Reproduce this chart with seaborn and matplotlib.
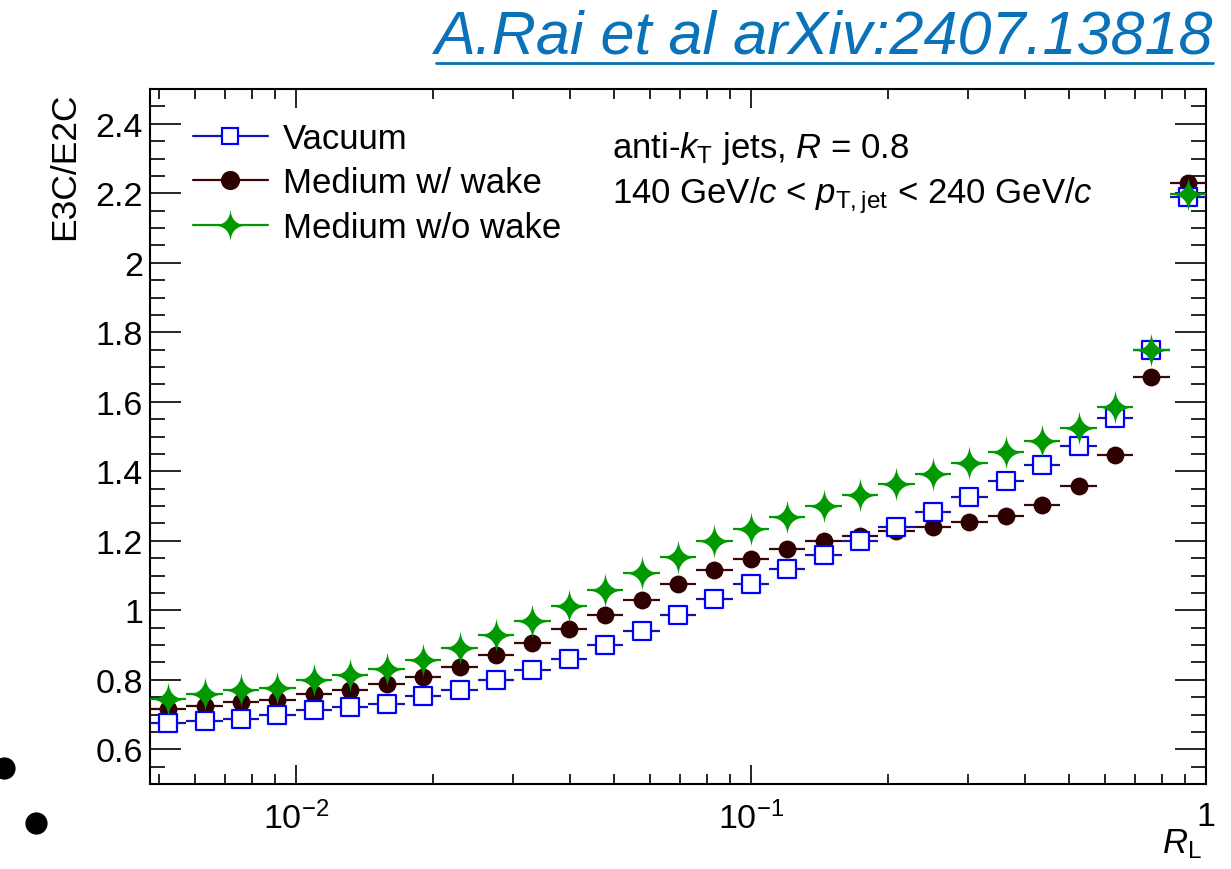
import numpy as np
import matplotlib
matplotlib.use("Agg")
import matplotlib.pyplot as plt
import seaborn as sns
from matplotlib.path import Path
from matplotlib.lines import Line2D
from matplotlib.ticker import FixedLocator, FuncFormatter, LogLocator, MultipleLocator, NullFormatter

# ---------------- data ----------------
# 29 logarithmic R_L bins between 10^-2.32 and 1
log_lo, log_hi, n_bins = -2.32, 0.0, 29

vacuum = [0.676, 0.682, 0.688, 0.699, 0.714, 0.722, 0.731, 0.752, 0.770, 0.800,
          0.829, 0.861, 0.899, 0.941, 0.986, 1.032, 1.075, 1.118, 1.159, 1.200,
          1.240, 1.284, 1.326, 1.372, 1.418, 1.473, 1.553, 1.749, 2.190]
wake = [0.716, 0.724, 0.735, 0.742, 0.759, 0.771, 0.788, 0.807, 0.836, 0.870,
        0.906, 0.946, 0.986, 1.030, 1.075, 1.116, 1.147, 1.175, 1.199, 1.213,
        1.228, 1.240, 1.253, 1.272, 1.303, 1.358, 1.448, 1.671, 2.230]
nowake = [0.745, 0.759, 0.771, 0.776, 0.798, 0.813, 0.832, 0.857, 0.890, 0.928,
          0.969, 1.012, 1.057, 1.106, 1.153, 1.199, 1.233, 1.269, 1.301, 1.331,
          1.364, 1.392, 1.425, 1.454, 1.487, 1.524, 1.584, 1.750, 2.197]

labels = ["Vacuum", "Medium w/ wake", "Medium w/o wake"]
yticks = [0.6, 0.8, 1.0, 1.2, 1.4, 1.6, 1.8, 2.0, 2.2, 2.4]
xticks = [0.01, 0.1, 1.0]
xticklabels = [r"$10^{-2}$", r"$10^{-1}$", "1"]

# ---------------- style ----------------
sns.set_theme(style="ticks")
plt.rcParams["font.family"] = ["Liberation Sans", "DejaVu Sans"]
plt.rcParams["mathtext.fontset"] = "custom"
plt.rcParams["mathtext.rm"] = "Liberation Sans"
plt.rcParams["mathtext.it"] = "Liberation Sans:italic"
plt.rcParams["mathtext.bf"] = "Liberation Sans:bold"
plt.rcParams["axes.unicode_minus"] = True
for k in ["text.color", "axes.labelcolor", "xtick.color", "ytick.color", "axes.edgecolor"]:
    plt.rcParams[k] = "black"

edges = np.logspace(log_lo, log_hi, n_bins + 1)
centers = np.sqrt(edges[:-1] * edges[1:])
xerr = np.vstack([centers - edges[:-1], edges[1:] - centers])

# 4-pointed concave star marker
c = 0.06
star = Path([(0, 1), (c, c), (1, 0), (c, -c), (0, -1), (-c, -c), (-1, 0), (-c, c), (0, 1), (0, 1)],
            [Path.MOVETO, Path.CURVE3, Path.CURVE3, Path.CURVE3, Path.CURVE3,
             Path.CURVE3, Path.CURVE3, Path.CURVE3, Path.CURVE3, Path.CLOSEPOLY])

fig = plt.figure(figsize=(12.31, 8.70), dpi=100)
ax = fig.add_axes([150 / 1231, 1 - 785 / 870, (1206 - 150) / 1231, (785 - 90) / 870])

blue_line, blue_mk = "#1414b4", "#0000ff"
brown = "#2e0000"
brown_line = "#3a0808"
green = "#009a00"

# Medium w/ wake
ax.errorbar(centers, wake, xerr=xerr, fmt="none", ecolor=brown_line, elinewidth=1.6, capsize=0, zorder=3)
sns.scatterplot(x=centers, y=wake, ax=ax, marker="o", s=165, color=brown, edgecolor=brown,
                linewidth=0, zorder=3.5, legend=False)
# Vacuum
ax.errorbar(centers, vacuum, xerr=xerr, fmt="none", ecolor=blue_line, elinewidth=1.6, capsize=0, zorder=4)
sns.scatterplot(x=centers, y=vacuum, ax=ax, marker="s", s=150, facecolor="white", edgecolor=blue_mk,
                linewidth=1.6, zorder=4.5, legend=False)
# Medium w/o wake
ax.errorbar(centers, nowake, xerr=xerr, fmt="none", ecolor=green, elinewidth=1.6, capsize=0, zorder=5)
sns.scatterplot(x=centers, y=nowake, ax=ax, marker=star, s=25 ** 2, color=green, edgecolor=green,
                linewidth=0, zorder=5.5, legend=False)

ax.set_xscale("log")
ax.set_xlim(edges[0], edges[-1])
ax.set_ylim(0.5, 2.5)

ax.xaxis.set_major_locator(FixedLocator(xticks))
ax.xaxis.set_major_formatter(FuncFormatter(lambda v, p: xticklabels[xticks.index(v)] if v in xticks else ""))
ax.xaxis.set_minor_locator(LogLocator(base=10, subs=np.arange(2, 10)))
ax.xaxis.set_minor_formatter(NullFormatter())
ax.yaxis.set_major_locator(FixedLocator(yticks))
ax.yaxis.set_major_formatter(FuncFormatter(lambda v, p: "%g" % round(v, 2)))
ax.yaxis.set_minor_locator(MultipleLocator(0.05))

for s in ax.spines.values():
    s.set_linewidth(1.5)
    s.set_color("black")
ax.tick_params(axis="both", which="both", direction="in", top=True, right=True, colors="black",
               labelsize=24.5, width=1.2)
ax.tick_params(axis="y", which="major", length=22, pad=5)
ax.tick_params(axis="y", which="minor", length=11)
ax.tick_params(axis="x", which="major", length=14, pad=12)
ax.tick_params(axis="x", which="minor", length=7)
ax.set_xlabel("")
ax.set_ylabel("")

# axis titles (ROOT style)
fig.text(65 / 1231, 1 - 93 / 870, "E3C/E2C", rotation=90, ha="center", va="top", fontsize=25.5)
fig.text(1202 / 1231, 1 - 853 / 870, r"$R_{\rm L}$", ha="right", va="baseline", fontsize=25)

# legend
handles = [
    Line2D([0], [0], color=blue_line, lw=1.6, marker="s", markersize=12.2, markerfacecolor="white",
           markeredgecolor=blue_mk, markeredgewidth=1.6),
    Line2D([0], [0], color=brown_line, lw=1.6, marker="o", markersize=12.8, markerfacecolor=brown,
           markeredgecolor=brown),
    Line2D([0], [0], color=green, lw=1.6, marker=star, markersize=23, markerfacecolor=green,
           markeredgecolor=green, markeredgewidth=0),
]
fig.legend(handles, labels, loc="upper left", bbox_to_anchor=(193 / 1231, 1 - 123 / 870),
           bbox_transform=fig.transFigure, frameon=False, fontsize=25, handlelength=2.15,
           handletextpad=0.45, labelspacing=0.33, borderpad=0, borderaxespad=0)

# annotation text
fig.text(612 / 1231, 1 - 158 / 870, r"anti-$k_{\rm T}$ jets, $R$ = 0.8", ha="left", va="baseline", fontsize=25)
fig.text(612 / 1231, 1 - 203 / 870, r"140 GeV/$c$ < $p_{\rm T,jet}$ < 240 GeV/$c$", ha="left",
         va="baseline", fontsize=25)

# citation header (underlined)
title_color = "#0a72b8"
t = fig.text(1213 / 1231, 1 - 54 / 870, "A.Rai et al arXiv:2407.13818", ha="right", va="baseline",
             fontsize=44, style="italic", color=title_color)
fig.canvas.draw()
bb = t.get_window_extent()
fig.add_artist(Line2D([bb.x0 / fig.bbox.width + 0.001, bb.x1 / fig.bbox.width],
                      [1 - 64 / 870, 1 - 64 / 870], transform=fig.transFigure, color=title_color, lw=2.0))

# slide bullets at bottom-left
fig.add_artist(Line2D([4 / 1231], [1 - 769 / 870], transform=fig.transFigure, marker="o", markersize=15,
                      color="black", lw=0))
fig.add_artist(Line2D([36 / 1231], [1 - 824 / 870], transform=fig.transFigure, marker="o", markersize=15,
                      color="black", lw=0))

fig.savefig("out.png", dpi=100)
